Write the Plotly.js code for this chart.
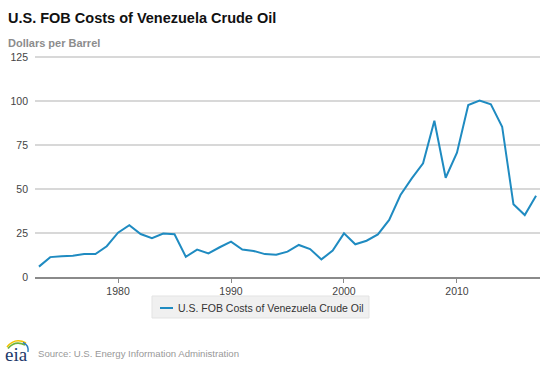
<!DOCTYPE html>
<html>
<head>
<meta charset="utf-8">
<script src="https://cdn.plot.ly/plotly-3.0.1.min.js"></script>
<style>html,body{margin:0;padding:0;background:#fff}#chart{width:550px;height:366px}</style>
</head>
<body>
<div id="chart"></div>
<script>
const years = [1973,1974,1975,1976,1977,1978,1979,1980,1981,1982,1983,1984,1985,1986,1987,1988,1989,1990,1991,1992,1993,1994,1995,1996,1997,1998,1999,2000,2001,2002,2003,2004,2005,2006,2007,2008,2009,2010,2011,2012,2013,2014,2015,2016,2017];
const costs = [5.9,11.3,11.8,12.1,13.0,13.0,17.5,25.2,29.4,24.4,22.0,24.7,24.3,11.5,15.6,13.4,16.9,20.1,15.6,14.8,13.0,12.6,14.4,18.2,15.9,10.0,15.0,24.8,18.6,20.6,24.2,32.4,46.6,56.0,64.6,88.8,56.4,70.6,97.7,100.2,98.1,85.4,41.3,35.2,46.2];
const yTicks = [0,25,50,75,100,125];
const xTicks = [1980,1990,2000,2010];
const seriesName = 'U.S. FOB Costs of Venezuela Crude Oil';

const L = 35, R = 10, T = 54, B = 89, W = 550, H = 366;
const pw = W - L - R, ph = H - T - B;
const px = x => (x - L) / pw;
const py = y => (H - B - y) / ph;

const lineColor = '#1f8bc1';
const trace = {
  x: years, y: costs, type: 'scatter', mode: 'lines', name: seriesName,
  line: {color: lineColor, width: 2}, hoverinfo: 'x+y', showlegend: false
};

const F = 'Liberation Sans, Arial, sans-serif';

const layout = {
  width: W, height: H,
  margin: {l: L, r: R, t: T, b: B},
  paper_bgcolor: '#fff', plot_bgcolor: '#fff',
  showlegend: false,
  font: {family: F, color: '#333'},
  xaxis: {
    range: [1972.65, 2017.35], tickvals: xTicks, ticktext: xTicks.map(String),
    showgrid: false, zeroline: false, showline: true, linecolor: '#8a8a8a', linewidth: 1.5,
    ticks: 'outside', ticklen: 4, tickcolor: '#8a8a8a', tickwidth: 1,
    tickfont: {family: F, size: 10.5, color: '#444'}
  },
  yaxis: {
    range: [0, 126.7], tickvals: yTicks, ticktext: yTicks.map(String),
    showgrid: true, gridcolor: '#d8d8d8', gridwidth: 1.3, zeroline: false, showline: false,
    ticks: '', tickfont: {family: F, size: 10.5, color: '#444'}, ticklabelstandoff: 6
  },
  annotations: [
    {text: '<b>U.S. FOB Costs of Venezuela Crude Oil</b>', xref: 'paper', yref: 'paper',
     x: px(7), y: py(17.5), xanchor: 'left', yanchor: 'middle', showarrow: false, borderpad: 0,
     font: {family: F, size: 14.5, color: '#111'}},
    {text: '<b>Dollars per Barrel</b>', xref: 'paper', yref: 'paper',
     x: px(7), y: py(43), xanchor: 'left', yanchor: 'middle', showarrow: false, borderpad: 0,
     font: {family: F, size: 11, color: '#8c8c8c'}},
    {text: seriesName, xref: 'paper', yref: 'paper',
     x: px(177), y: py(307.5), xanchor: 'left', yanchor: 'middle', showarrow: false, borderpad: 0,
     font: {family: F, size: 10.5, color: '#333'}},
    {text: 'Source: U.S. Energy Information Administration', xref: 'paper', yref: 'paper',
     x: px(37), y: py(353.5), xanchor: 'left', yanchor: 'middle', showarrow: false, borderpad: 0,
     font: {family: F, size: 9.6, color: '#999'}},
    {text: 'eia', xref: 'paper', yref: 'paper',
     x: px(4), y: py(354), xanchor: 'left', yanchor: 'middle', showarrow: false, borderpad: 0,
     font: {family: 'Liberation Serif, DejaVu Serif, serif', size: 19, color: '#1d3a6a'}}
  ],
  shapes: [
    {type: 'rect', xref: 'paper', yref: 'paper', x0: px(152), x1: px(369), y0: py(296), y1: py(318),
     fillcolor: '#f0f0f0', line: {color: '#e3e3e3', width: 1}, layer: 'below'},
    {type: 'line', xref: 'paper', yref: 'paper', x0: px(160), x1: px(173), y0: py(308), y1: py(308),
     line: {color: lineColor, width: 2}},
    {type: 'path', xref: 'paper', yref: 'paper',
     path: `M ${px(7)} ${py(347)} Q ${px(15)} ${py(337)} ${px(26)} ${py(343)}`,
     line: {color: '#f2c200', width: 1.6}},
    {type: 'path', xref: 'paper', yref: 'paper',
     path: `M ${px(8)} ${py(348.5)} Q ${px(15)} ${py(340)} ${px(25)} ${py(345)}`,
     line: {color: '#6db33f', width: 1.6}},
    {type: 'path', xref: 'paper', yref: 'paper',
     path: `M ${px(23)} ${py(342.5)} Q ${px(29)} ${py(345)} ${px(28)} ${py(352)}`,
     line: {color: '#2a7fc0', width: 1.4}}
  ]
};

Plotly.newPlot('chart', [trace], layout, {displayModeBar: false, staticPlot: true});
</script>
</body>
</html>
